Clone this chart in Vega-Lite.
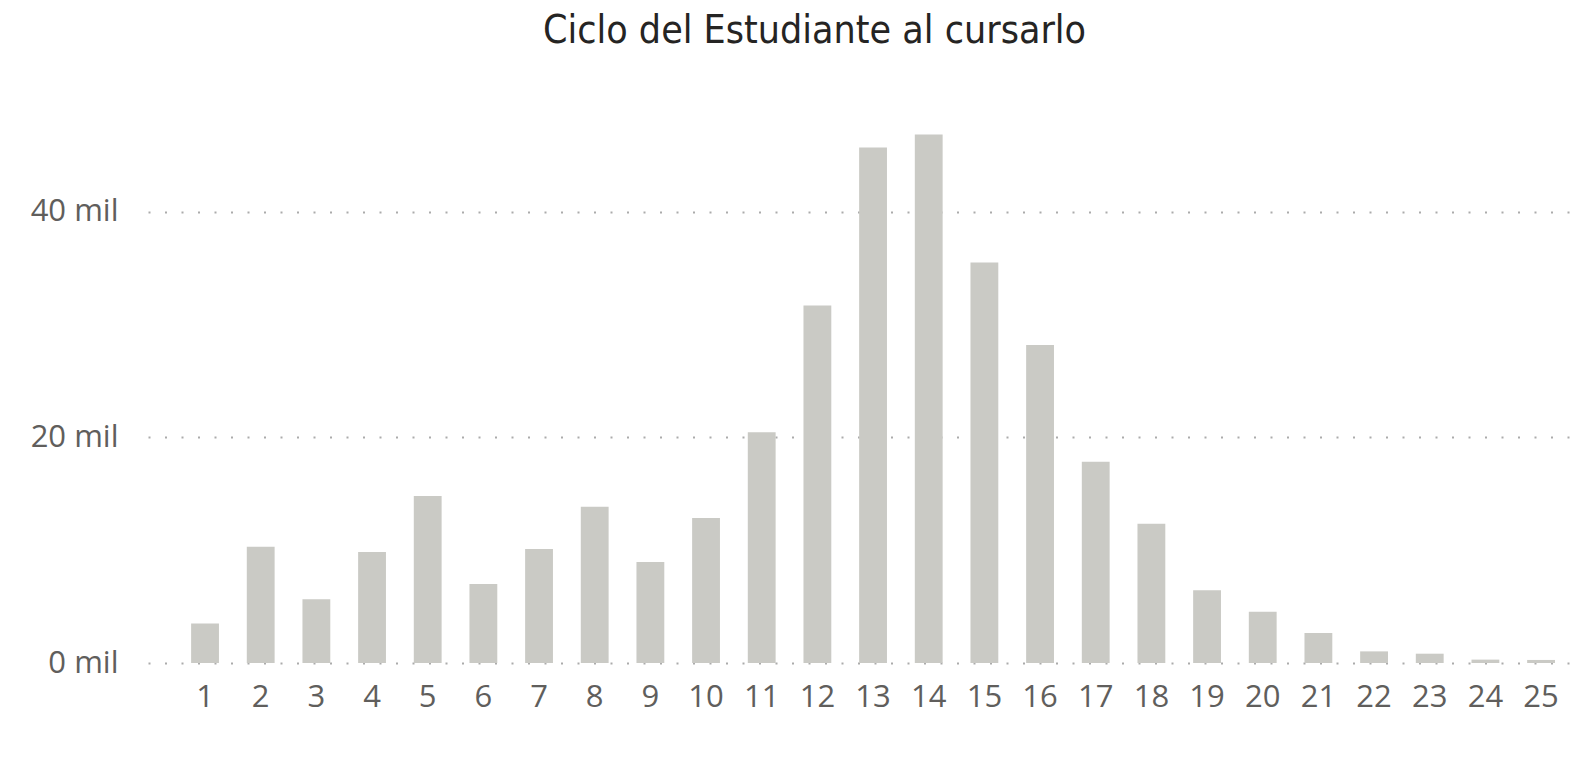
{
  "$schema": "https://vega.github.io/schema/vega-lite/v6.json",
  "autosize": {"type": "none"},
  "padding": {"left": 148, "top": 99, "right": 0, "bottom": 104},
  "width": 1429,
  "height": 564,
  "background": "white",
  "title": {
    "text": "Ciclo del Estudiante al cursarlo",
    "font": "DejaVu Sans Condensed",
    "fontSize": 39,
    "fontWeight": "normal",
    "color": "#252423",
    "anchor": "middle",
    "frame": "group",
    "baseline": "alphabetic",
    "offset": 17,
    "dx": -48
  },
  "data": {
    "values": [
      {"ciclo": 1, "estudiantes": 3500},
      {"ciclo": 2, "estudiantes": 10300},
      {"ciclo": 3, "estudiantes": 5650},
      {"ciclo": 4, "estudiantes": 9850},
      {"ciclo": 5, "estudiantes": 14800},
      {"ciclo": 6, "estudiantes": 7000},
      {"ciclo": 7, "estudiantes": 10100},
      {"ciclo": 8, "estudiantes": 13850},
      {"ciclo": 9, "estudiantes": 8950},
      {"ciclo": 10, "estudiantes": 12850},
      {"ciclo": 11, "estudiantes": 20450},
      {"ciclo": 12, "estudiantes": 31700},
      {"ciclo": 13, "estudiantes": 45700},
      {"ciclo": 14, "estudiantes": 46850},
      {"ciclo": 15, "estudiantes": 35500},
      {"ciclo": 16, "estudiantes": 28200},
      {"ciclo": 17, "estudiantes": 17850},
      {"ciclo": 18, "estudiantes": 12350},
      {"ciclo": 19, "estudiantes": 6450},
      {"ciclo": 20, "estudiantes": 4550},
      {"ciclo": 21, "estudiantes": 2660},
      {"ciclo": 22, "estudiantes": 1030},
      {"ciclo": 23, "estudiantes": 825},
      {"ciclo": 24, "estudiantes": 300},
      {"ciclo": 25, "estudiantes": 270}
    ]
  },
  "mark": {"type": "bar", "color": "#CACAC5"},
  "encoding": {
    "x": {
      "field": "ciclo",
      "type": "ordinal",
      "sort": "ascending",
      "scale": {"paddingInner": 0.5, "paddingOuter": 0.585, "align": 0.662},
      "axis": {
        "title": null,
        "labelAngle": 0,
        "ticks": false,
        "domain": false,
        "grid": false,
        "labelFont": "Open Sans",
        "labelFontSize": 31,
        "labelColor": "#605E5C",
        "labelPadding": 19
      }
    },
    "y": {
      "field": "estudiantes",
      "type": "quantitative",
      "scale": {"domain": [0, 50000], "nice": false, "zero": true},
      "axis": {
        "title": null,
        "values": [0, 20000, 40000],
        "labelExpr": "format(datum.value / 1000, 'd') + ' mil'",
        "ticks": false,
        "domain": false,
        "grid": true,
        "gridColor": "#ABABAB",
        "gridWidth": 2,
        "gridDash": [2, 14.5],
        "labelFont": "Open Sans",
        "labelFontSize": 31,
        "labelColor": "#605E5C",
        "labelPadding": 30
      }
    }
  },
  "config": {"view": {"stroke": null}}
}
